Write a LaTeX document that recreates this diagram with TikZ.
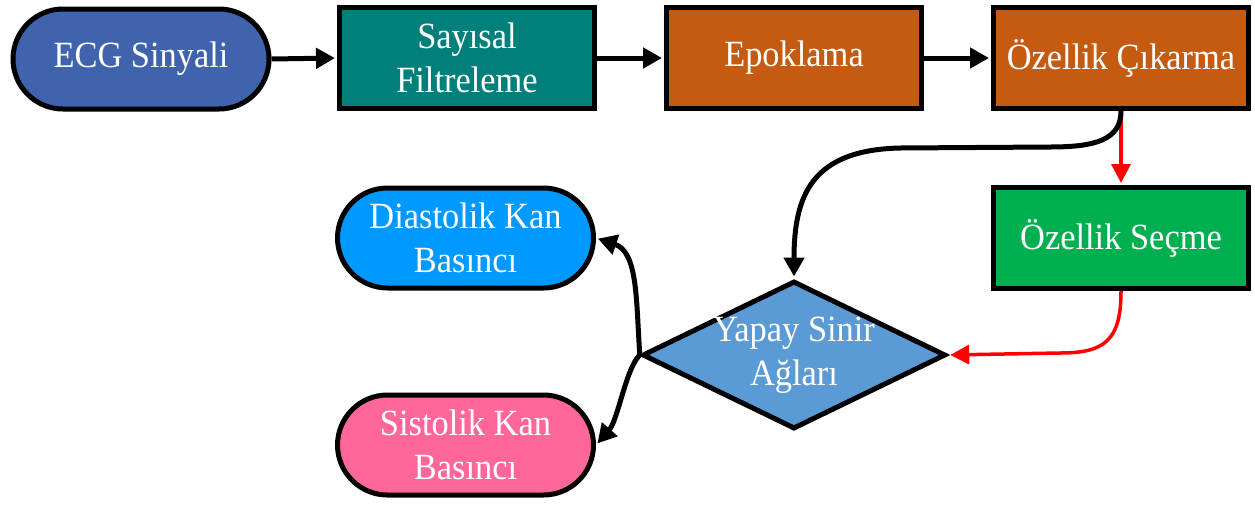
\documentclass[tikz,border=0pt]{standalone}
\usepackage{fontspec}
\setmainfont{Liberation Serif}[FakeStretch=0.93]
\usetikzlibrary{shapes.geometric,arrows.meta}
\definecolor{cecg}{HTML}{3F63AD}
\definecolor{cteal}{HTML}{007F7B}
\definecolor{corange}{HTML}{C55A11}
\definecolor{cgreen}{HTML}{00B050}
\definecolor{cdia}{HTML}{5B9BD5}
\definecolor{cdias}{HTML}{0099FF}
\definecolor{csis}{HTML}{FF6699}
\tikzset{
  base/.style={draw=black, line width=5pt, text=white, align=center, inner sep=0pt,
    font=\fontsize{37}{44}\selectfont},
  box/.style={base, rectangle, minimum width=255pt, minimum height=101pt},
  stadium/.style={base, rectangle, rounded corners=50pt, minimum width=256pt, minimum height=100pt},
  decision/.style={base, diamond, aspect=2.05, inner sep=-2.5pt, minimum width=293pt, minimum height=143pt},
  blk/.style={draw=black, line width=5pt, shorten >=2pt, -{Triangle[length=19pt,width=20pt]}},
  redarr/.style={draw=red, line width=3.5pt, shorten >=2pt, -{Triangle[length=19pt,width=19pt]}}
}
\begin{document}
\begin{tikzpicture}[x=1pt,y=-1pt]
\useasboundingbox[fill=white] (0,0) rectangle (1255,504);
\node[stadium, fill=cecg] (ecg) at (141,59) {ECG Sinyali};
\node[box, fill=cteal] (fil) at (467,58) {Sayısal\\Filtreleme};
\node[box, fill=corange] (epo) at (794,58) {Epoklama};
\node[box, fill=corange] (cik) at (1121,58) {Özellik Çıkarma};
\node[box, fill=cgreen] (sec) at (1121,238) {Özellik Seçme};
\node[decision, fill=cdia] (ysa) at (794,355) {Yapay Sinir\\Ağları};
\node[stadium, fill=cdias] (dias) at (465.5,238) {Diastolik Kan\\Basıncı};
\node[stadium, fill=csis] (sis) at (465.5,445) {Sistolik Kan\\Basıncı};

\draw[blk] (ecg.east) -- (fil.west);
\draw[blk] (fil.east) -- (epo.west);
\draw[blk] (epo.east) -- (cik.west);
\draw[redarr] (cik.south) -- (sec.north);
\draw[blk] (cik.south) .. controls (1121,140) and (1095,147) .. (1050,147)
  -- (900,148) .. controls (812,150) and (794,195) .. (ysa.north);
\draw[redarr] (sec.south) .. controls (1121,340) and (1105,353) .. (1060,353) -- (ysa.east);
\draw[blk] (ysa.west) .. controls (636,300) and (638,252) .. (dias.east);
\draw[blk] (ysa.west) .. controls (626,368) and (618,420) .. (sis.east);
\end{tikzpicture}
\end{document}
